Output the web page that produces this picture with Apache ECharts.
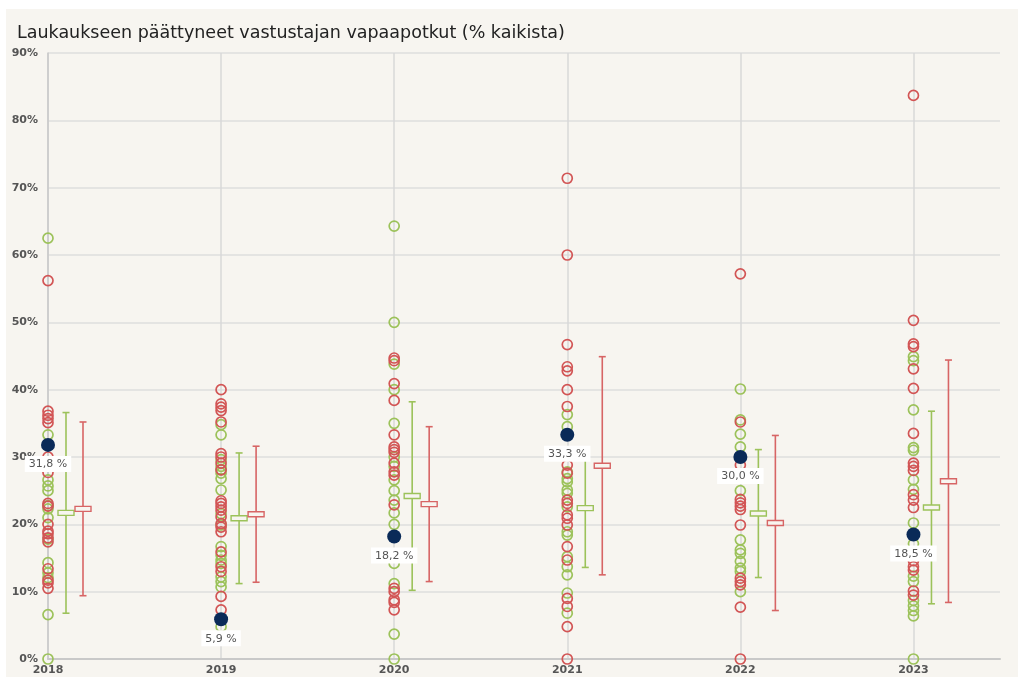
<!DOCTYPE html>
<html>
<head>
<meta charset="utf-8">
<script src="https://cdn.jsdelivr.net/npm/echarts@6/dist/echarts.min.js"></script>
<style>
  html, body { margin: 0; padding: 0; background: #ffffff; }
  #chart { position: absolute; left: 6px; top: 9px; width: 1012px; height: 668px; }
</style>
</head>
<body>
<div id="chart"></div>
<script>
// Seasons on the x axis
const years = [2018, 2019, 2020, 2021, 2022, 2023];

// Per-team share (%) of opponent free kicks that ended in a shot, one list per season
const greenPoints = [
  [62.5, 33.3, 26.6, 25.7, 25.0, 22.8, 22.3, 21.0, 17.8, 14.3, 12.8, 12.1, 6.6, 0],
  [34.8, 33.3, 29.6, 28.6, 28.1, 27.6, 26.8, 25.1, 21.6, 19.9, 16.7, 15.4, 14.7, 14.2, 12.2, 11.5, 10.7, 4.8],
  [64.3, 50.0, 43.8, 40.0, 35.0, 30.0, 28.6, 26.6, 25.0, 23.6, 21.7, 20.0, 14.2, 11.2, 3.7, 0],
  [36.3, 34.5, 27.8, 26.8, 26.3, 25.1, 24.6, 22.6, 18.9, 18.4, 15.2, 13.7, 12.5, 9.8, 6.8],
  [40.1, 35.5, 33.4, 31.5, 25.0, 17.7, 16.2, 15.7, 14.5, 13.5, 13.0, 10.0],
  [44.9, 44.3, 37.0, 31.4, 31.0, 26.6, 25.2, 20.2, 17.1, 12.3, 11.5, 8.7, 7.9, 7.2, 6.4, 0]
];
const redPoints = [
  [56.2, 36.8, 36.2, 35.7, 35.1, 30.0, 27.7, 23.1, 22.7, 20.0, 19.0, 18.6, 18.0, 17.4, 13.4, 11.7, 11.3, 10.5],
  [40.0, 37.9, 37.4, 36.9, 35.2, 30.5, 30.0, 29.1, 28.1, 23.5, 23.1, 22.6, 22.1, 21.1, 20.1, 19.6, 18.9, 15.9, 13.7, 13.0, 9.3, 7.3],
  [44.7, 44.3, 40.9, 38.4, 33.3, 31.5, 31.1, 30.7, 29.1, 27.8, 27.3, 22.9, 10.5, 10.0, 8.8, 8.4, 7.3],
  [71.4, 60.0, 46.7, 43.4, 42.8, 40.0, 37.5, 28.8, 27.6, 23.6, 23.1, 21.4, 20.9, 19.9, 16.7, 14.7, 9.0, 7.8, 4.8, 0],
  [57.2, 35.2, 28.8, 23.7, 23.2, 22.7, 22.2, 19.9, 12.0, 11.5, 11.0, 7.7, 0],
  [83.7, 50.3, 46.8, 46.4, 43.1, 40.2, 33.5, 29.1, 28.6, 28.0, 24.4, 23.6, 22.5, 15.4, 14.6, 13.7, 13.2, 10.1, 9.5]
];

// Highlighted team per season
const highlightValues = [31.8, 5.9, 18.2, 33.3, 30.0, 18.5];

// Group means and spreads (bar runs mean ± spread)
const greenMean = [21.7, 20.9, 24.2, 22.4, 21.6, 22.5];
const greenSpread = [14.9, 9.7, 14.0, 8.8, 9.5, 14.3];
const redMean = [22.3, 21.5, 23.0, 28.7, 20.2, 26.4];
const redSpread = [12.9, 10.1, 11.5, 16.2, 13.0, 18.0];

const GREEN = '#9cc25a';
const RED = '#d25555';
const RED_BAR = '#d76565';
const NAVY = '#0a2a58';
const FONT = '"DejaVu Sans", Verdana, sans-serif';

function pointsOf(lists) {
  const out = [];
  lists.forEach((vals, i) => vals.forEach(v => out.push([years[i], v])));
  return out;
}

function barData(means, spreads) {
  return years.map((y, i) => [y, means[i], spreads[i]]);
}

function makeErrorBar(color, pxOffset) {
  return function (params, api) {
    const x = api.value(0), m = api.value(1), s = api.value(2);
    const pMid = api.coord([x, m]);
    const pTop = api.coord([x, m + s]);
    const pBot = api.coord([x, m - s]);
    const cx = pMid[0] + pxOffset;
    const cap = 3.5;
    const style = { stroke: color, lineWidth: 1.6 };
    return {
      type: 'group',
      children: [
        { type: 'line', shape: { x1: cx, y1: pTop[1], x2: cx, y2: pBot[1] }, style },
        { type: 'line', shape: { x1: cx - cap, y1: pTop[1], x2: cx + cap, y2: pTop[1] }, style },
        { type: 'line', shape: { x1: cx - cap, y1: pBot[1], x2: cx + cap, y2: pBot[1] }, style },
        { type: 'rect', shape: { x: cx - 8, y: pMid[1] - 2.5, width: 16, height: 5 },
          style: { fill: '#f7f5f0', stroke: color, lineWidth: 1.4 } }
      ]
    };
  };
}

const chart = echarts.init(document.getElementById('chart'));
chart.setOption({
  backgroundColor: '#f7f5f0',
  animation: false,
  title: {
    text: 'Laukaukseen päättyneet vastustajan vapaapotkut (% kaikista)',
    left: 6, top: 10,
    textStyle: { fontFamily: FONT, fontSize: 17.5, fontWeight: 'normal', color: '#222' }
  },
  grid: { left: 42, right: 18, top: 44, bottom: 18 },
  xAxis: {
    type: 'value', min: 2018, max: 2023.5, interval: 1,
    axisLine: { show: true, lineStyle: { color: '#c9c9c9', width: 2 } },
    axisTick: { show: false },
    axisLabel: {
      showMaxLabel: false, margin: 6,
      fontFamily: FONT, fontSize: 11, fontWeight: 'bold', color: '#555',
      formatter: v => (Number.isInteger(v) ? String(v) : '')
    },
    splitLine: {
      show: true,
      lineStyle: { color: ['#d9d9d9', '#d9d9d9', '#d9d9d9', '#d9d9d9', '#d9d9d9', '#d9d9d9', 'rgba(0,0,0,0)'], width: 1.5 }
    }
  },
  yAxis: {
    type: 'value', min: 0, max: 90, interval: 10,
    axisLine: { show: true, lineStyle: { color: '#c9c9c9', width: 1.5 } },
    axisTick: { show: false },
    axisLabel: {
      margin: 10, fontFamily: FONT, fontSize: 11, fontWeight: 'bold', color: '#555',
      formatter: '{value}%'
    },
    splitLine: { lineStyle: { color: '#dedede', width: 1.5 } }
  },
  series: [
    {
      type: 'scatter', name: 'green', data: pointsOf(greenPoints),
      symbol: 'circle', symbolSize: 10, z: 3,
      itemStyle: { color: 'rgba(0,0,0,0)', borderColor: GREEN, borderWidth: 1.7, opacity: 1 }
    },
    {
      type: 'scatter', name: 'red', data: pointsOf(redPoints),
      symbol: 'circle', symbolSize: 10, z: 3,
      itemStyle: { color: 'rgba(0,0,0,0)', borderColor: RED, borderWidth: 1.7, opacity: 1 }
    },
    {
      type: 'custom', name: 'greenBar', data: barData(greenMean, greenSpread),
      renderItem: makeErrorBar(GREEN, 18), z: 4
    },
    {
      type: 'custom', name: 'redBar', data: barData(redMean, redSpread),
      renderItem: makeErrorBar(RED_BAR, 35), z: 4
    },
    {
      type: 'scatter', name: 'highlight',
      data: years.map((y, i) => [y, highlightValues[i]]),
      symbol: 'circle', symbolSize: 14, z: 6,
      itemStyle: { color: NAVY, opacity: 1 },
      label: {
        show: true, position: 'bottom', distance: 4,
        formatter: p => p.value[1].toFixed(1).replace('.', ',') + ' %',
        backgroundColor: '#ffffff', padding: [3, 4, 2, 4],
        fontFamily: FONT, fontSize: 11, color: '#555'
      }
    }
  ]
});
</script>
</body>
</html>
